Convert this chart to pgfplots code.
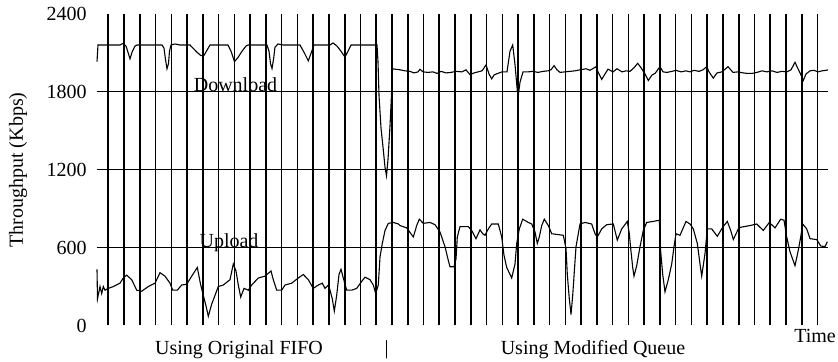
\documentclass[border=0pt]{standalone}
\usepackage{fontspec}
\setmainfont{Liberation Serif}
\usepackage{pgfplots}
\pgfplotsset{compat=1.18}
\begin{document}
\begin{tikzpicture}
\begin{axis}[
  name=ax,
  scale only axis,
  width=365.5pt, height=155.75pt,
  xmin=97, xmax=828, ymin=0, ymax=2400,
  enlargelimits=false,
  clip=false,
  axis line style={draw=none},
  xtick={108.3,124.06,...,818},
  xticklabels={},
  xmajorgrids=true,
  major grid style={black, line width=0.8pt},
  major tick length=0pt,
  ytick={0,600,1200,1800,2400},
  yticklabels={0,600,1200,1800,2400},
  yticklabel style={anchor=east, xshift=-1.6pt},
  extra y ticks={600,1200,1800},
  extra y tick labels={},
  extra y tick style={grid=major, major grid style={black, line width=0.6pt}},
]
\addplot[black, line width=0.55pt, mark=none] coordinates {
(97,2033)(98,2161)(120,2161)(123,2173)(126,2153)(128,2105)(130,2055)(132,2105)(135,2153)(137,2161)
(162,2161)(164,2137)(165.5,2049)(167,1978)(168.5,2018)(169.5,2113)(171,2161)(175,2169)(180,2161)
(190,2161)(193,2137)(197,2105)(201,2079)(204,2081)(207,2121)(210,2161)(228,2161)(231,2113)
(234.5,2033)(238,2065)(242,2113)(246,2153)(248,2161)(267,2161)(269,2113)(270.5,2018)(272,1980)
(273.5,2049)(275,2145)(278,2169)(283,2161)(300,2161)(304,2105)(308.3,2039)(311,2097)(314,2161)
(330,2161)(333,2177)(337,2153)(341,2113)(345,2068)(348,2113)(351,2161)(377,2161)(378,2033)
(379,1773)(381,1522)(383,1375)(385,1220)(386.5,1153)(388,1279)(390,1537)(391.5,1780)(392.5,1978)
(396,1974)(400,1970)(405,1962)
(410,1958)(414,1946)(418,1954)(420,1974)(423,1954)(428,1950)(433,1954)(437,1942)(441,1958)(446,1946)
(451,1950)(456,1958)(462,1954)(466,1970)(470,1932)(474,1946)(478,1954)(482,1962)(486,2007)(489,1938)
(491.7,1900)(494,1930)(497,1940)(502,1954)(507,1954)(510,2113)(512.7,2161)(515,2010)(517.3,1808)
(518.3,1775)(520,1874)(523,1954)(528,1954)(533,1958)(538,1950)(543,1958)(548,1962)(551,1970)
(554,2002)(557,1970)(560,1950)(565,1954)(570,1958)(575,1962)(580,1970)(586,1978)(590,1966)(596,1994)
(598,1954)(601.7,1896)(605,1938)(608,1975)(613,1954)(617,1978)(622,1954)(626,1962)(630,1958)
(634,1986)(637.7,2020)(641,1986)(645,1938)(648.3,1888)(652,1930)(655,1942)(660,1994)(663,1954)
(667,1950)(672,1958)(676,1966)(681,1954)(686,1962)(690,1954)(694,1966)(699,1958)(703,1970)
(706.7,1994)(709,1954)(713.3,1906)(717,1946)(722,1954)(728,1994)(733,1950)(738,1954)(743,1946)
(748,1942)(752,1942)(757,1950)(762,1962)(767,1954)(772,1962)(777,1950)(782,1958)(787,1954)
(791,1970)(795,2028)(797,1994)(800,1946)(803.3,1888)(806,1938)(810,1962)(814,1966)(818,1954)
(822,1962)(826,1966)(828,1970)
};
\addplot[black, line width=0.55pt, mark=none] coordinates {
(97,433)(97.5,205)(100,300)(101.7,246)(103.3,300)(105,272)(108.3,286)(113.3,300)(120,326)(123.3,366)
(126.7,388)(131.7,353)(136.7,272)(141.7,264)(148.3,300)(155,326)(160,407)(165,380)(170,326)
(172.7,272)(177.3,272)(181.7,312)(186.7,318)(191.7,380)(197.3,447)(200.7,312)(203.3,232)(206,151)
(208.3,71)(211.7,165)(215,232)(218.3,300)(223.3,312)(230,353)(233.3,474)(236,420)(238.3,312)
(240.7,219)(244,286)(248.3,272)(251.7,312)(258.3,366)(265,380)(271,420)(273.3,353)(276.7,272)
(281.7,272)(285,312)(291.7,326)(298.3,366)(303.3,393)(308.3,353)(313.3,286)(318.3,312)(322.3,326)
(325,286)(328.3,312)(330,272)(332.3,205)(334.3,111)(336.7,232)(339,393)(341,433)(343.3,366)
(346.7,272)(351.7,272)(356.7,286)(361.7,340)(365,372)(370,353)(373.3,312)(375.7,246)(378.3,312)
(380,528)(382.3,632)(385,732)(388.3,787)(393.3,794)(398.3,782)(400,770)(406.7,752)(413.3,682)
(416.7,770)(419.3,819)(423.3,787)(430,794)(435,777)(440,720)(445,607)(448.3,501)(450,453)(454,453)
(456,514)(457.3,682)(460,762)(468.3,762)(471.7,732)(476,669)(480,737)(482.7,707)(485,695)
(488.3,744)(491.7,782)(498.3,782)(501.7,682)(504,541)(506.7,447)(511.7,366)(515,474)(516.7,632)
(519.3,744)(522.7,819)(528.3,794)(531.7,782)(535,720)(537.3,632)(539.3,682)(541.7,770)(544.3,819)
(548.3,770)(551.7,707)(563.3,695)(566,594)(567.3,393)(569.3,205)(571,85)(572.7,232)(574,380)
(576,607)(580,782)(585,794)(591.7,782)(595,707)(597.3,682)(601.7,744)(606.7,777)(613.3,782)
(617.3,658)(621.7,744)(627.3,802)(629.3,707)(630.7,594)(632.7,447)(634,380)(636.7,461)(640,607)
(643.3,732)(646.7,794)(653.3,802)(659.3,811)(660.7,568)(662.7,393)(665,259)(668.3,353)(671.7,474)
(674,607)(676,707)(680,695)(686,802)(690,782)(693.3,744)(697.3,632)(700,474)(701.7,380)(705,554)
(707.3,744)(711.7,744)(717.3,687)(722.7,757)(727.3,802)(730.7,732)(733.3,662)(738.3,744)
(740.7,757)(750,770)(756.7,782)(763.3,732)(769.3,794)(775,752)(780.7,819)(784,811)(786.7,682)
(790,568)(795,461)(798.3,581)(800.7,682)(802.7,782)(806.7,744)(810,669)(816.7,662)(820.7,613)
(825,607)(827.3,645)
};
\node[anchor=base] at (axis cs:235.5,1800) {Download};
\node[anchor=base] at (axis cs:229,600) {Upload};
\node at (axis cs:239,-189) {Using Original FIFO};
\node at (axis cs:386.7,-189) {|};
\node at (axis cs:593,-189) {Using Modified Queue};
\node at (axis cs:815,-81) {Time};
\node[rotate=90] at (axis cs:18,1198) {Throughput (Kbps)};
\end{axis}
\pgfresetboundingbox
\path[use as bounding box] ([xshift=-48.5pt,yshift=-18.25pt]ax.south west) rectangle ([xshift=5pt,yshift=7pt]ax.north east);
\end{tikzpicture}
\end{document}
